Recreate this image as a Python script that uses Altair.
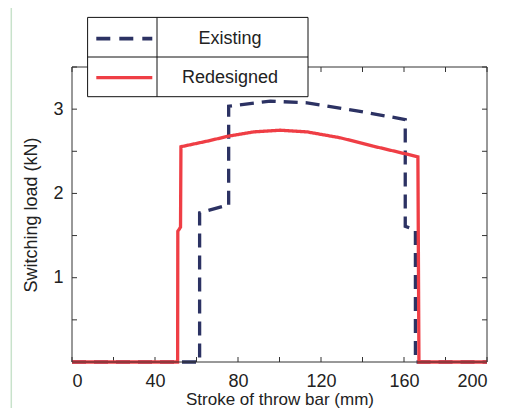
import altair as alt
import pandas as pd

# ---- data ----
existing_x = [0, 61.5, 61.5, 73.1, 75.5, 75.5, 95.6, 113.3, 137.3, 160.6, 160.6, 165.0, 165.5, 165.5, 200]
existing_y = [0, 0, 1.77, 1.85, 1.85, 3.035, 3.095, 3.075, 2.98, 2.877, 1.61, 1.57, 1.57, 0, 0]

redesigned_x = [0, 50.9, 51.0, 52.3, 52.5, 65.1, 75.5, 87.5, 100.4, 113.3, 129.3, 145.3, 166.7, 167.2, 200]
redesigned_y = [0, 0, 1.55, 1.6, 2.554, 2.62, 2.68, 2.73, 2.75, 2.73, 2.66, 2.56, 2.435, 0, 0]

series_names = ["Existing", "Redesigned"]
series_colors = ["#2c3263", "#ef3e45"]

x_tick_marks = [0, 20, 40, 60, 80, 100, 120, 140, 160, 180, 200]
x_tick_labels = [0, 40, 80, 120, 160, 200]
y_tick_marks = [0, 0.5, 1, 1.5, 2, 2.5, 3, 3.5]
y_tick_labels = [1, 2, 3]

rows = []
for i, (x, y) in enumerate(zip(existing_x, existing_y)):
    rows.append({"series": "Existing", "x": x, "y": y, "i": i})
for i, (x, y) in enumerate(zip(redesigned_x, redesigned_y)):
    rows.append({"series": "Redesigned", "x": x, "y": y, "i": i})
df = pd.DataFrame(rows)

W, H = 415, 295
TOP = 59
DY = 61 - TOP  # shift for elements placed above the plot
FONT = "Liberation Sans"
TXT = "#222222"

xscale = alt.Scale(domain=[0, 200], nice=False, zero=False)
yscale = alt.Scale(domain=[0, 3.5], nice=False, zero=False)
xaxis = alt.Axis(values=x_tick_labels, ticks=False, tickSize=0, domain=False, grid=False,
                 labelPadding=10, titlePadding=1, labelFontSize=18, titleFontSize=17,
                 labelFont=FONT, titleFont=FONT, labelColor=TXT, titleColor=TXT,
                 titleFontWeight="normal")
yaxis = alt.Axis(values=y_tick_labels, ticks=False, tickSize=0, domain=False, grid=False,
                 labelPadding=9, titlePadding=12, labelFontSize=18, titleFontSize=18,
                 labelFont=FONT, titleFont=FONT, labelColor=TXT, titleColor=TXT,
                 titleFontWeight="normal")

X = alt.X("x:Q", scale=xscale, axis=xaxis, title="Stroke of throw bar (mm)")
Y = alt.Y("y:Q", scale=yscale, axis=yaxis, title="Switching load (kN)")

one = alt.Data(values=[{}])

# outer light frame
frame = alt.Chart(one).mark_rect(fill=None, stroke="#c8e2cb", strokeWidth=1.5).encode(
    x=alt.value(-60.7), x2=alt.value(520), y=alt.value(-62 + DY), y2=alt.value(420))

box = alt.Chart(one).mark_rect(fill=None, stroke="#333333", strokeWidth=1).encode(
    x=alt.value(0), x2=alt.value(W), y=alt.value(0), y2=alt.value(H))

xt = pd.DataFrame({"x": x_tick_marks})
yt = pd.DataFrame({"y": y_tick_marks})
tick_style = dict(color="#333333", strokeWidth=1)
t_bottom = alt.Chart(xt).mark_rule(**tick_style).encode(x=X, y=alt.value(H), y2=alt.value(H - 5))
t_top = alt.Chart(xt).mark_rule(**tick_style).encode(x=X, y=alt.value(0), y2=alt.value(5))
t_left = alt.Chart(yt).mark_rule(**tick_style).encode(y=Y, x=alt.value(0), x2=alt.value(5))
t_right = alt.Chart(yt).mark_rule(**tick_style).encode(y=Y, x=alt.value(W), x2=alt.value(W - 5))

lines = alt.Chart(df).mark_line(strokeWidth=3.3, strokeJoin="miter", strokeCap="butt").encode(
    x=X, y=Y,
    color=alt.Color("series:N", scale=alt.Scale(domain=series_names, range=series_colors), legend=None),
    strokeDash=alt.StrokeDash("series:N", scale=alt.Scale(domain=series_names, range=[[14, 8], [1, 0]]), legend=None),
    order="i:Q",
)

# table-style legend
lx0, lx1, ly0, ly1 = 15.6, 236, -51.6 + DY, 27.7 + DY
leg_box = alt.Chart(one).mark_rect(fill="white", stroke="#111111", strokeWidth=1).encode(
    x=alt.value(lx0), x2=alt.value(lx1), y=alt.value(ly0), y2=alt.value(ly1))
leg_h = alt.Chart(one).mark_rule(color="#111111", strokeWidth=1).encode(
    x=alt.value(lx0), x2=alt.value(lx1), y=alt.value(-12 + DY))
leg_v = alt.Chart(one).mark_rule(color="#111111", strokeWidth=1).encode(
    x=alt.value(85), y=alt.value(ly0), y2=alt.value(ly1))
sym1 = alt.Chart(one).mark_rule(color=series_colors[0], strokeWidth=3.8, strokeDash=[14, 9]).encode(
    x=alt.value(24.3), x2=alt.value(80.3), y=alt.value(-30.3 + DY))
sym2 = alt.Chart(one).mark_rule(color=series_colors[1], strokeWidth=3.3).encode(
    x=alt.value(24.3), x2=alt.value(80.3), y=alt.value(8.7 + DY))
txt_style = dict(font=FONT, fontSize=18, color=TXT, align="center", baseline="middle")
lab1 = alt.Chart(one).mark_text(text=series_names[0], **txt_style).encode(
    x=alt.value(158), y=alt.value(-30.3 + DY))
lab2 = alt.Chart(one).mark_text(text=series_names[1], **txt_style).encode(
    x=alt.value(158), y=alt.value(8.7 + DY))

chart = alt.layer(
    frame, t_bottom, t_top, t_left, t_right, lines, box,
    leg_box, leg_h, leg_v, sym1, sym2, lab1, lab2,
).properties(
    width=W, height=H,
    autosize=alt.AutoSizeParams(type="none"),
    padding={"left": 64, "top": TOP, "right": 20, "bottom": 400 - TOP - H},
    background="white",
).configure_view(stroke=None)

chart.save("out.html", embed_options={"renderer": "svg", "actions": False})
